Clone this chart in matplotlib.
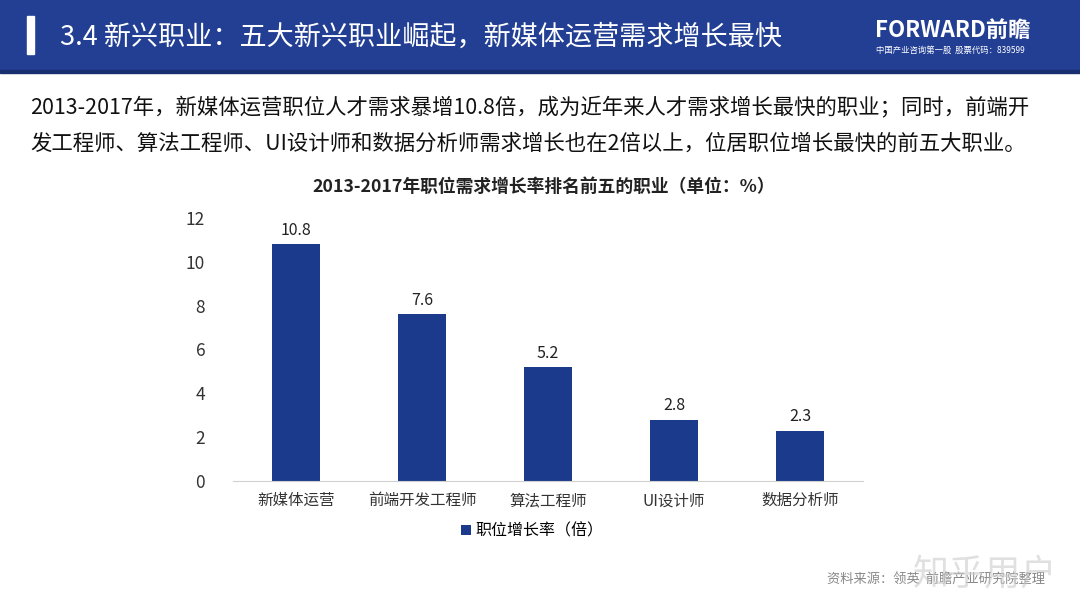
import matplotlib.pyplot as plt
import matplotlib.patches as patches

plt.rcParams['font.family'] = ['Noto Sans CJK SC', 'DejaVu Sans']

jobs = ['新媒体运营', '前端开发工程师', '算法工程师', 'UI设计师', '数据分析师']
growth = [10.8, 7.6, 5.2, 2.8, 2.3]
yticks = [0, 2, 4, 6, 8, 10, 12]

W, H = 1080, 608
fig = plt.figure(figsize=(W / 100, H / 100), dpi=100)

# header band
fig.patches.append(patches.Rectangle((0, 1 - 70 / H), 1, 70 / H, transform=fig.transFigure,
                                     color='#233f94', zorder=0))
fig.patches.append(patches.Rectangle((0, 1 - 73 / H), 1, 3 / H, transform=fig.transFigure,
                                     color='#1a2f70', zorder=0))
fig.patches.append(patches.Rectangle((27 / W, 1 - 54 / H), 7 / W, 38 / H, transform=fig.transFigure,
                                     color='white', zorder=1))
fig.text(60 / W, 1 - 37 / H, '3.4 新兴职业：五大新兴职业崛起，新媒体运营需求增长最快',
         color='white', fontsize=19.5, va='center', ha='left')
fig.text(875 / W, 1 - 30 / H, 'FORWARD前瞻', color='white', fontsize=16, fontweight='bold',
         va='center', ha='left')
fig.text(876 / W, 1 - 50 / H, '中国产业咨询第一股  股票代码：839599', color='white', fontsize=6,
         va='center', ha='left')

# body text
fig.text(30 / W, 1 - 108 / H, '2013-2017年，新媒体运营职位人才需求暴增10.8倍，成为近年来人才需求增长最快的职业；同时，前端开',
         fontsize=15.4, va='center', ha='left', color='#111111')
fig.text(30 / W, 1 - 144 / H, '发工程师、算法工程师、UI设计师和数据分析师需求增长也在2倍以上，位居职位增长最快的前五大职业。',
         fontsize=15.4, va='center', ha='left', color='#111111')

fig.text(544 / W, 1 - 187 / H, '2013-2017年职位需求增长率排名前五的职业（单位：%）',
         fontsize=12.8, fontweight='bold', va='center', ha='center', color='#222222')

# chart
ax = fig.add_axes([233 / W, 1 - 481 / H, 630 / W, (481 - 218) / H])
bars = ax.bar(jobs, growth, width=0.38, color='#1c3a8c', label='职位增长率（倍）')
for b, v in zip(bars, growth):
    ax.text(b.get_x() + b.get_width() / 2, v + 0.25, f'{v}', ha='center', va='bottom',
            fontsize=11.5, color='#222222')
ax.set_ylim(0, 12)
ax.set_yticks(yticks)
ax.set_xlim(-0.5, len(jobs) - 0.5)
for s in ['top', 'right', 'left']:
    ax.spines[s].set_visible(False)
ax.spines['bottom'].set_color('#d0d0d0')
ax.tick_params(axis='both', length=0, colors='#333333')
ax.tick_params(axis='x', labelsize=11.2, pad=8)
ax.tick_params(axis='y', labelsize=12.5, pad=20)

ax.legend(loc='center', bbox_to_anchor=(0.475, -0.19), frameon=False, fontsize=11.5,
          handlelength=0.6, handleheight=0.6, handletextpad=0.3)

fig.text(1045 / W, 1 - 580 / H, '资料来源：领英  前瞻产业研究院整理', fontsize=9.5, color='#888888',
         ha='right', va='center')
fig.text(985 / W, 1 - 575 / H, '知乎用户', fontsize=26, color='#cccccc', alpha=0.6,
         ha='center', va='center')

fig.savefig('out.png', dpi=100)
